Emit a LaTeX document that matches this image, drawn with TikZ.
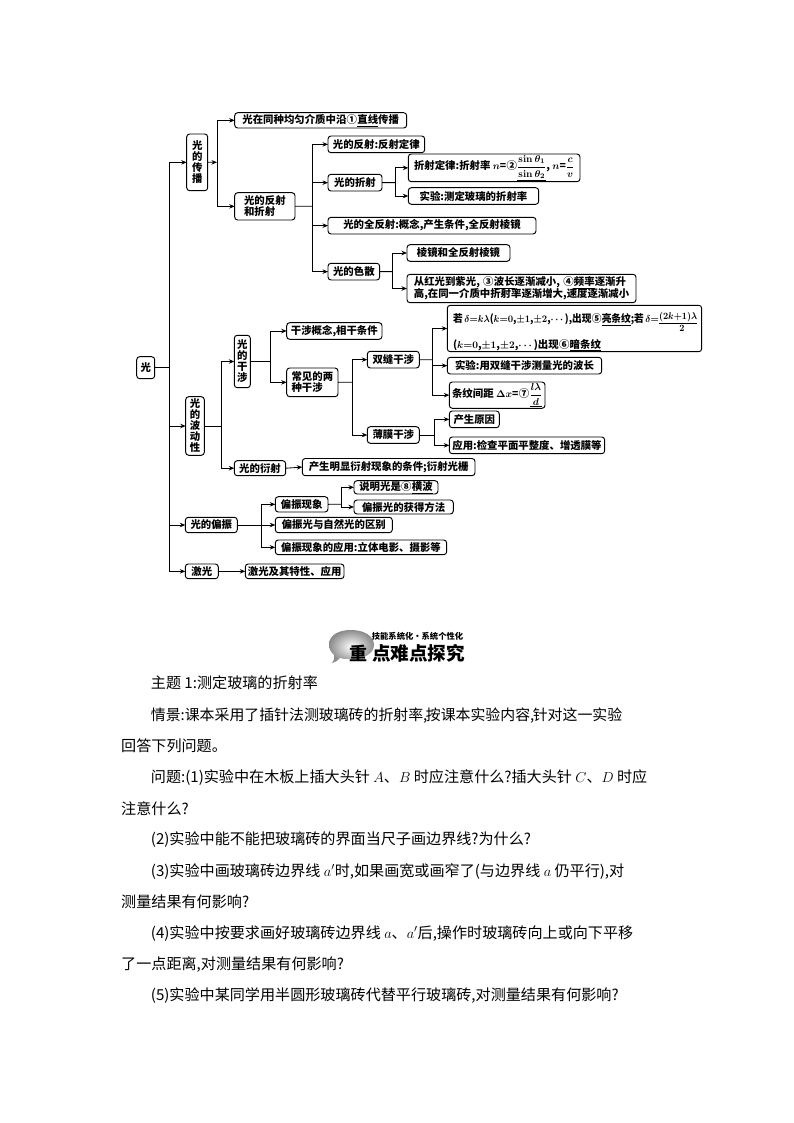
\documentclass[tikz,border=0pt]{standalone}
\usepackage{amsmath}
\usepackage{graphicx}
\usepackage[no-math]{fontspec}
\setmainfont{Noto Sans CJK SC}
\newfontfamily\cjkf{Noto Sans CJK SC}
\usetikzlibrary{arrows.meta}
\newcommand{\dfontset}{\cjkf\bfseries\fontsize{10.4}{12.3}\selectfont}
\newcommand{\tightfont}{\cjkf\bfseries\fontsize{10.4}{11}\selectfont}
\newcommand{\mm}[1]{\mbox{\boldmath$#1$}}
\newcommand{\ul}[1]{\underline{#1}}
\newcommand{\cn}[1]{\makebox[11pt]{#1}}
\tikzset{
  bx/.style={draw=black,line width=0.95pt,rounded corners=3pt,inner sep=0pt,outer sep=0pt,font=\dfontset,align=center},
  tight/.style={font=\tightfont},
  ln/.style={draw=black,line width=0.8pt},
  arr/.style={ln,-{Stealth[length=5.5pt,width=4.5pt]}},
  body/.style={anchor=base west,inner sep=0pt,font=\cjkf\fontsize{15.1}{18}\selectfont},
}
\newcommand{\bxn}[6][]{\node[bx,#1,minimum width={(#4-#2)*1pt},minimum height={(#5-#3)*1pt}] (#6) at ({(#2+#4)/2},{(#3+#5)/2})}
\begin{document}
\begin{tikzpicture}[x=1pt,y=-1pt]
\useasboundingbox[fill=white] (0,0) rectangle (794,1123);
% boxes
\bxn{136.7}{356.7}{154.7}{378.7}{guang} {光};
\bxn[tight]{186.7}{134}{207.7}{190.7}{cb} {光\\的\\传\\播};
\bxn{234.7}{112.7}{406.7}{128}{zx} {光在同种均匀介质中沿\cn{①}\ul{直线}传播};
\bxn[align=left,tight]{234.7}{192.7}{295}{220}{fz} {光的反射\\和折射};
\bxn{328}{136}{424.7}{152.7}{fs} {光的反射:反射定律};
\bxn{328}{174.3}{382}{191}{zs} {光的折射};
\bxn{328}{217.3}{536}{234}{qf} {光的全反射:概念,产生条件,全反射棱镜};
\bxn{328}{263.3}{379.7}{280}{ss} {光的色散};
\bxn{408.3}{154}{580}{181.7}{zd} {折射定律:折射率 \mm{n}=\cn{②}\ul{\mm{\dfrac{\sin\theta_1}{\sin\theta_2}}}, \mm{n}=\mm{\dfrac{c}{v}}};
\bxn{408.3}{187.7}{538.7}{204.3}{cd} {实验:测定玻璃的折射率};
\bxn{407}{244.7}{510}{261.3}{lj} {棱镜和全反射棱镜};
\bxn[align=left]{407}{274.3}{636}{302.7}{hg} {从红光到紫光,\hspace{3pt}\cn{③}\ul{波长}逐渐减小,\hspace{3pt}\cn{④}\ul{频率}逐渐升\\高,在同一介质中折射率逐渐增大,速度逐渐减小};
\bxn[tight]{185.7}{396.7}{204.3}{455.3}{bd} {光\\的\\波\\动\\性};
\bxn[tight]{234.3}{335.3}{250.3}{387.7}{gs} {光\\的\\干\\涉};
\bxn{286.7}{322.7}{382}{339.3}{gn} {干涉概念,相干条件};
\bxn[align=left,tight]{286.7}{368}{338}{396.7}{cj} {常见的两\\种干涉};
\bxn{367.3}{351.3}{419.3}{368}{sf} {双缝干涉};
\bxn{367.3}{426.7}{419.3}{443.3}{bm} {薄膜干涉};
\bxn{234.3}{460.7}{285.7}{475.7}{ys} {光的衍射};
\bxn{302.3}{458.5}{475}{475.7}{cs} {产生明显衍射现象的条件;衍射光栅};
\node[bx,align=left,font=\cjkf\bfseries\fontsize{10.4}{25.5}\selectfont,minimum width=254.4pt,minimum height=46.4pt,text width=243pt] (ruo) at (574.5,328.5)
 {\rule{0pt}{17pt}\scalebox{0.93}[1]{若\,\mm{\delta{=}k\lambda}(\mm{k{=}0},\mm{\pm 1},\mm{\pm 2},\mm{\cdots}),出现\cn{⑤}\ul{亮条纹};若\,\mm{\delta{=}}\scalebox{0.97}{\raisebox{3pt}{\ul{\mm{(2k{+}1)\lambda}}}\kern-34pt\raisebox{-9pt}{\makebox[34pt]{\mm{2}}}}}\\(\mm{k{=}0},\mm{\pm 1},\mm{\pm 2},\mm{\cdots})出现\cn{⑥}\ul{暗条纹}};
\bxn{447.3}{357.3}{601.7}{374}{sy} {实验:用双缝干涉测量光的波长};
\bxn{449.3}{382}{545}{408.3}{tw} {条纹间距 \mm{\Delta x}=\cn{⑦}\ul{\mm{\dfrac{l\lambda}{d}}}};
\bxn{449.3}{411}{499.3}{427.7}{cy} {产生原因};
\bxn{449.3}{437}{604.7}{453.7}{yy} {应用:检查平面平整度、增透膜等};
\bxn{185.3}{517.3}{237.3}{532.7}{pz} {光的偏振};
\bxn{275.3}{496.7}{328}{512}{px} {偏振现象};
\bxn{275.3}{517.3}{392.3}{532.7}{pq} {偏振光与自然光的区别};
\bxn{275.3}{540}{446.7}{554.7}{py} {偏振现象的应用:立体电影、摄影等};
\bxn{354}{480.7}{438}{494}{sm} {说明光是\cn{⑧}\ul{横波}};
\bxn{354}{500}{453.3}{514}{hd} {偏振光的获得方法};
\bxn{185.3}{564}{218.3}{578.7}{jg} {激光};
\bxn{245.3}{564}{344}{578.7}{jt} {激光及其特性、应用};
% junctions
\coordinate (j0) at (169.7,367.7);
\coordinate (j1) at (217,162.3);
\coordinate (j2) at (312.3,206.3);
\coordinate (j3) at (395,182.6);
\coordinate (j4) at (392.7,271.6);
\coordinate (j5) at (221,426);
\coordinate (j6) at (270,361.5);
\coordinate (j7) at (352.3,382.3);
\coordinate (j8) at (432.7,359.7);
\coordinate (j9) at (434.3,435);
\coordinate (j10) at (261.7,525);
\coordinate (j11) at (341.7,504.3);
% connectors
\draw[ln] (guang.east) -- (j0);
\draw[arr] (j0) |- (cb.west);
\draw[arr] (j0) |- (bd.west);
\draw[arr] (j0) |- (pz.west);
\draw[arr] (j0) |- (jg.west);
\draw[arr] (cb.east) -- (j1);
\draw[arr] (j1) |- (zx.west);
\draw[arr] (j1) |- (fz.west);
\draw[ln] (fz.east) -- (j2);
\draw[arr] (j2) |- (fs.west);
\draw[arr] (j2) |- (zs.west);
\draw[arr] (j2) |- (qf.west);
\draw[arr] (j2) |- (ss.west);
\draw[ln] (zs.east) -- (j3);
\draw[arr] (j3) |- (zd.west);
\draw[arr] (j3) |- (cd.west);
\draw[ln] (ss.east) -- (j4);
\draw[arr] (j4) |- (lj.west);
\draw[arr] (j4) |- (hg.west);
\draw[ln] (bd.east) -- (j5);
\draw[arr] (j5) |- (gs.west);
\draw[arr] (j5) |- (ys.west);
\draw[ln] (gs.east) -- (j6);
\draw[arr] (j6) |- (gn.west);
\draw[arr] (j6) |- (cj.west);
\draw[ln] (cj.east) -- (j7);
\draw[arr] (j7) |- (sf.west);
\draw[arr] (j7) |- (bm.west);
\draw[ln] (sf.east) -- (j8);
\draw[arr] (j8) |- (ruo.west);
\draw[arr] (j8) |- (sy.west);
\draw[arr] (j8) |- (tw.west);
\draw[ln] (bm.east) -- (j9);
\draw[arr] (j9) |- (cy.west);
\draw[arr] (j9) |- (yy.west);
\draw[arr] (ys.east) -- (cs.west);
\draw[ln] (pz.east) -- (j10);
\draw[arr] (j10) |- (px.west);
\draw[arr] (j10) |- (pq.west);
\draw[arr] (j10) |- (py.west);
\draw[ln] (px.east) -- (j11);
\draw[arr] (j11) |- (sm.west);
\draw[arr] (j11) |- (hd.west);
\draw[arr] (jg.east) -- (jt.west);
% heading
\shade[inner color=white,outer color=black!45]
  (329,645) .. controls (329,634) and (340,630) .. (351,630)
  .. controls (364,630) and (374,636) .. (374,645)
  .. controls (374,654) and (362,660) .. (350,659)
  .. controls (345,659) and (342,659) .. (340,658)
  .. controls (338,661) and (335,662) .. (332,663)
  .. controls (334,660) and (335,657) .. (334,655)
  .. controls (331,652) and (329,649) .. (329,645) -- cycle;
\node[inner sep=0pt,font=\cjkf\bfseries\fontsize{8.3}{10}\selectfont] (h1) at (417.5,636.5) {技能系统化·系统个性化};
\node[inner sep=0pt,font=\cjkf\bfseries\fontsize{18}{20}\selectfont] (h2) at (358.5,653) {重};
\node[inner sep=0pt,font=\cjkf\bfseries\fontsize{18.6}{20}\selectfont] (h3) at (418.5,653) {点难点探究};
% body
\node[body] (b1) at (150.7,688) {主题 1:测定玻璃的折射率};
\node[body,font=\cjkf\fontsize{14.9}{18}\selectfont] (b2) at (150.7,720) {情景:课本采用了插针法测玻璃砖的折射率,\hspace{-1.5pt}按课本实验内容,\hspace{-1.5pt}针对这一实验};
\node[body] (b3) at (121,751) {回答下列问题。};
\node[body] (b4) at (150.7,782.5) {问题:(1)实验中在木板上插大头针 $A$、$B$ 时应注意什么?插大头针 $C$、$D$ 时应};
\node[body] (b5) at (121,814) {注意什么?};
\node[body] (b6) at (150.7,844) {(2)实验中能不能把玻璃砖的界面当尺子画边界线?为什么?};
\node[body] (b7) at (150.7,876) {(3)实验中画玻璃砖边界线 $a'$时,如果画宽或画窄了(与边界线 $a$ 仍平行),对};
\node[body] (b8) at (121,907) {测量结果有何影响?};
\node[body] (b9) at (150.7,938) {(4)实验中按要求画好玻璃砖边界线 $a$、$a'$后,操作时玻璃砖向上或向下平移};
\node[body] (b10) at (121,969) {了一点距离,对测量结果有何影响?};
\node[body] (b11) at (150.7,1000) {(5)实验中某同学用半圆形玻璃砖代替平行玻璃砖,对测量结果有何影响?};
\end{tikzpicture}
\end{document}
